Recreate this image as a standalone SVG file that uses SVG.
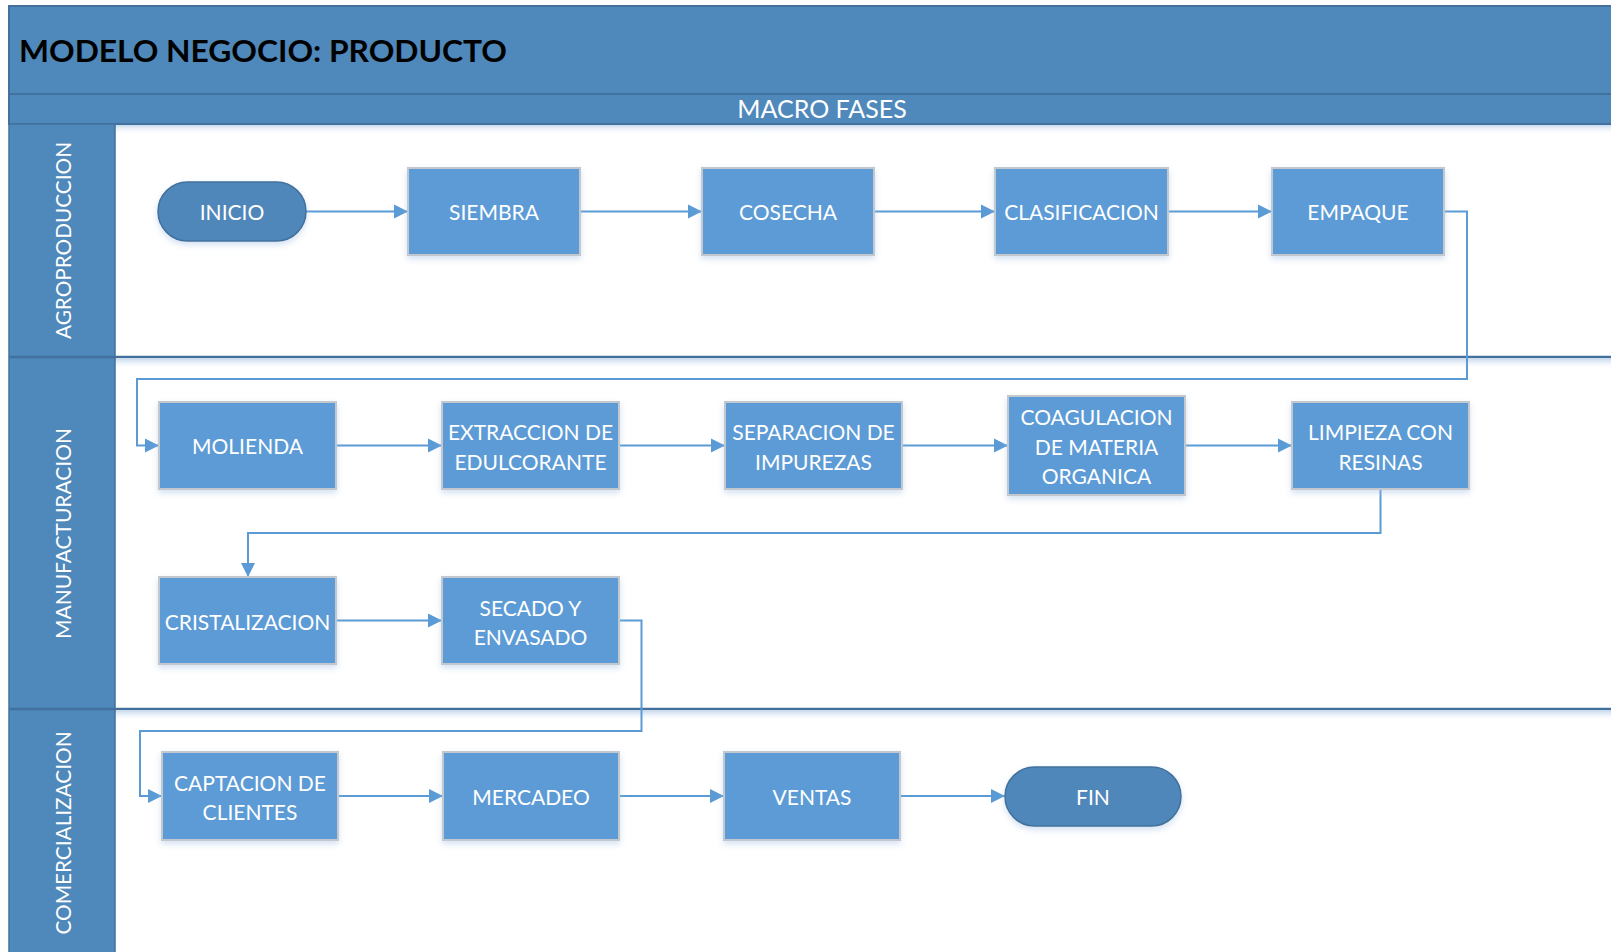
<svg xmlns="http://www.w3.org/2000/svg" width="1611" height="952" viewBox="0 0 1611 952">
<style>
.band{fill:#4f88bb;stroke:#41719c;stroke-width:2}
.lanecol{fill:#4f88bb;stroke:#41719c;stroke-width:1.5}
.sep{stroke:#41719c;stroke-width:2.5;fill:none}
.box{fill:#5b9bd5;stroke:#c3c8cf;stroke-width:2}
.pill{fill:#4f87ba;stroke:#41719c;stroke-width:1.5}
.t{font-family:Lato,"Liberation Sans",sans-serif;font-size:21px;fill:#ffffff;text-anchor:middle;dominant-baseline:central}
.lane{font-family:Lato,"Liberation Sans",sans-serif;font-size:22px;fill:#ffffff;text-anchor:middle;dominant-baseline:central}
.title{font-family:Lato,"Liberation Sans",sans-serif;font-size:30px;font-weight:bold;fill:#000000}
.macro{font-family:Lato,"Liberation Sans",sans-serif;font-size:25px;fill:#ffffff;text-anchor:middle;dominant-baseline:central}
.c{stroke:#5b9bd5;stroke-width:2;fill:none;marker-end:url(#ah)}
</style>
<defs>
<marker id="ah" markerUnits="userSpaceOnUse" markerWidth="16" markerHeight="16" refX="14" refY="8" orient="auto">
<path d="M0,1 L14,8 L0,15 Z" fill="#5b9bd5"/>
</marker>
<filter id="sh" x="-10%" y="-10%" width="120%" height="130%">
<feDropShadow dx="0" dy="3" stdDeviation="3" flood-color="#9dbbe0" flood-opacity="0.45"/>
</filter>
<linearGradient id="fade" x1="0" y1="0" x2="0" y2="1">
<stop offset="0" stop-color="#c9dbef"/>
<stop offset="1" stop-color="#ffffff" stop-opacity="0"/>
</linearGradient>
</defs>

<g id="frame">
<rect x="0" y="0" width="1611" height="952" fill="#ffffff"/>
<rect class="band" x="9" y="6" width="1610" height="88"/>
<rect class="band" x="9" y="94" width="1610" height="30"/>
<rect x="115" y="125" width="1496" height="10" fill="url(#fade)"/>
<rect x="115" y="359" width="1496" height="10" fill="url(#fade)"/>
<rect x="115" y="711" width="1496" height="10" fill="url(#fade)"/>
<rect class="lanecol" x="9" y="124" width="106" height="840"/>
<line class="sep" x1="9" y1="357" x2="1611" y2="357"/>
<line class="sep" x1="9" y1="709" x2="1611" y2="709"/>
<text class="title" x="19" y="62" textLength="488" lengthAdjust="spacingAndGlyphs">MODELO NEGOCIO: PRODUCTO</text>
<text class="macro" x="822" y="108">MACRO FASES</text>
</g>

<g id="lane-agro"><text class="lane" x="62" y="240.5" transform="rotate(-90 62 240.5)" textLength="197" lengthAdjust="spacingAndGlyphs">AGROPRODUCCION</text></g>
<g id="lane-manu"><text class="lane" x="62" y="533.5" transform="rotate(-90 62 533.5)" textLength="211" lengthAdjust="spacingAndGlyphs">MANUFACTURACION</text></g>
<g id="lane-comer"><text class="lane" x="62" y="833" transform="rotate(-90 62 833)" textLength="203" lengthAdjust="spacingAndGlyphs">COMERCIALIZACION</text></g>

<g id="connectors">
<path class="c" d="M306,211.5 H408"/>
<path class="c" d="M580,211.5 H702"/>
<path class="c" d="M874,211.5 H995"/>
<path class="c" d="M1168,211.5 H1272"/>
<path class="c" d="M1444,211.5 H1467 V379 H137 V445.5 H159"/>
<path class="c" d="M336,445.5 H442"/>
<path class="c" d="M619,445.5 H725"/>
<path class="c" d="M902,445.5 H1008"/>
<path class="c" d="M1185,445.5 H1292"/>
<path class="c" d="M1380.5,489 V533 H248 V577"/>
<path class="c" d="M336,620.5 H442"/>
<path class="c" d="M619,620.5 H641.5 V731 H140 V796 H162"/>
<path class="c" d="M338,796 H443"/>
<path class="c" d="M619,796 H724"/>
<path class="c" d="M900,796 H1005"/>
</g>

<g id="inicio"><rect class="pill" x="158" y="182" width="148" height="59" rx="29.5" filter="url(#sh)"/><text class="t" x="232" y="211.5">INICIO</text></g>
<g id="siembra"><rect class="box" x="408" y="168" width="172" height="87" filter="url(#sh)"/><text class="t" x="494" y="211.5">SIEMBRA</text></g>
<g id="cosecha"><rect class="box" x="702" y="168" width="172" height="87" filter="url(#sh)"/><text class="t" x="788" y="211.5">COSECHA</text></g>
<g id="clasificacion"><rect class="box" x="995" y="168" width="173" height="87" filter="url(#sh)"/><text class="t" x="1081.5" y="211.5">CLASIFICACION</text></g>
<g id="empaque"><rect class="box" x="1272" y="168" width="172" height="87" filter="url(#sh)"/><text class="t" x="1358" y="211.5">EMPAQUE</text></g>

<g id="molienda"><rect class="box" x="159" y="402" width="177" height="87" filter="url(#sh)"/><text class="t" x="247.5" y="445.5">MOLIENDA</text></g>
<g id="extraccion"><rect class="box" x="442" y="402" width="177" height="87" filter="url(#sh)"/><text class="t" x="530.5" y="431">EXTRACCION DE</text><text class="t" x="530.5" y="461">EDULCORANTE</text></g>
<g id="separacion"><rect class="box" x="725" y="402" width="177" height="87" filter="url(#sh)"/><text class="t" x="813.5" y="431">SEPARACION DE</text><text class="t" x="813.5" y="461">IMPUREZAS</text></g>
<g id="coagulacion"><rect class="box" x="1008" y="396" width="177" height="99" filter="url(#sh)"/><text class="t" x="1096.5" y="416.5">COAGULACION</text><text class="t" x="1096.5" y="446">DE MATERIA</text><text class="t" x="1096.5" y="475.5">ORGANICA</text></g>
<g id="limpieza"><rect class="box" x="1292" y="402" width="177" height="87" filter="url(#sh)"/><text class="t" x="1380.5" y="431">LIMPIEZA CON</text><text class="t" x="1380.5" y="461">RESINAS</text></g>

<g id="cristalizacion"><rect class="box" x="159" y="577" width="177" height="87" filter="url(#sh)"/><text class="t" x="247.5" y="621">CRISTALIZACION</text></g>
<g id="secado"><rect class="box" x="442" y="577" width="177" height="87" filter="url(#sh)"/><text class="t" x="530.5" y="607">SECADO Y</text><text class="t" x="530.5" y="636">ENVASADO</text></g>

<g id="captacion"><rect class="box" x="162" y="752" width="176" height="88" filter="url(#sh)"/><text class="t" x="250" y="782">CAPTACION DE</text><text class="t" x="250" y="811">CLIENTES</text></g>
<g id="mercadeo"><rect class="box" x="443" y="752" width="176" height="88" filter="url(#sh)"/><text class="t" x="531" y="796">MERCADEO</text></g>
<g id="ventas"><rect class="box" x="724" y="752" width="176" height="88" filter="url(#sh)"/><text class="t" x="812" y="796">VENTAS</text></g>
<g id="fin"><rect class="pill" x="1005" y="767" width="176" height="59" rx="29.5" filter="url(#sh)"/><text class="t" x="1093" y="796.5">FIN</text></g>
</svg>
